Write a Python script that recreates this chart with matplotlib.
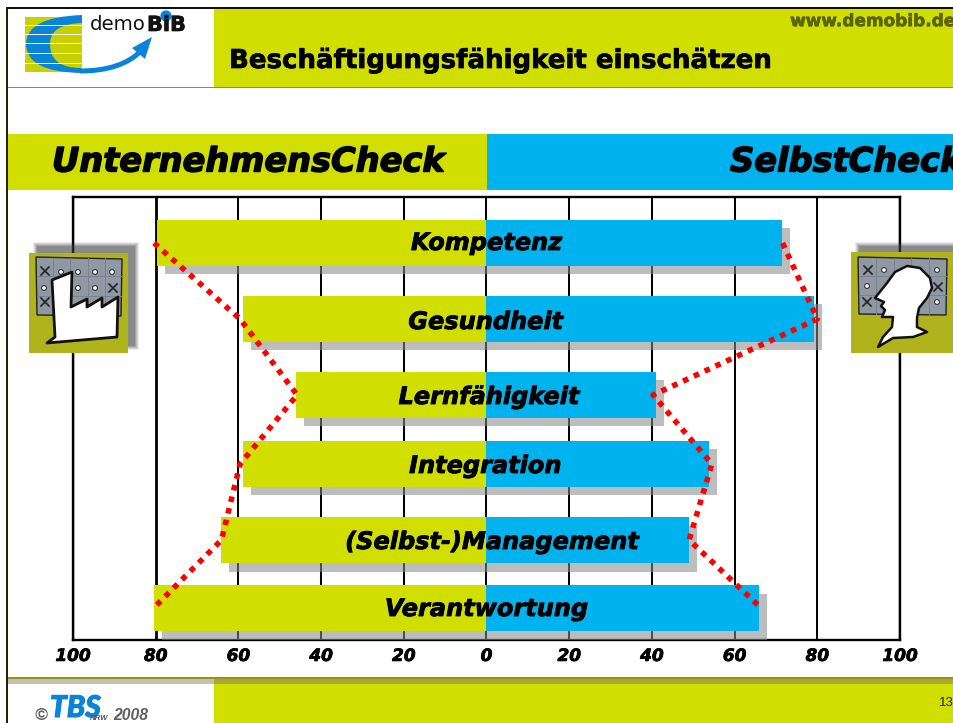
import matplotlib
matplotlib.use("Agg")
import matplotlib.pyplot as plt
import matplotlib.patheffects as pe
from matplotlib.font_manager import FontProperties as FP
from matplotlib.patches import Rectangle, Polygon, PathPatch, Circle
from matplotlib.path import Path
from matplotlib.transforms import offset_copy

# ---- data ----
categories = ["Kompetenz", "Gesundheit", "Lernfähigkeit", "Integration",
              "(Selbst-)Management", "Verantwortung"]
unternehmen = [79.6, 59.0, 46.0, 59.0, 64.1, 80.5]
selbst = [71.4, 79.3, 41.0, 53.7, 49.0, 66.0]
unternehmen_line = [80.4, 59.6, 45.8, 59.6, 64.1, 80.5]
selbst_line = [71.6, 80.0, 40.3, 54.5, 49.0, 66.4]
tick_values = [-100, -80, -60, -40, -20, 0, 20, 40, 60, 80, 100]
tick_labels = ["100", "80", "60", "40", "20", "0", "20", "40", "60", "80", "100"]

# ---- layout / style ----
W, H = 954, 723
row_centres = [46, 122, 198, 267, 343, 411]
label_baselines = [53, 132, 207, 276, 352, 419]
label_shift = [0.0, -0.2, 0.6, -0.3, 1.3, 0.0]
GREEN, BLUE, OLIVE = "#D0DE00", "#00B2EE", "#9A9400"
LOGO = "#0A84D8"


def bold(size):
    return FP(family="DejaVu Sans", weight="bold", size=size)


def bold_italic(size):
    return FP(family="DejaVu Sans", weight="bold", style="oblique", size=size)


def lib_bi(size):
    return FP(family="Liberation Sans", weight="bold", style="italic", size=size)


def heavy_text(w, c="black"):
    return [pe.withStroke(linewidth=w, foreground=c)]


fig = plt.figure(figsize=(W / 100, H / 100), dpi=100, facecolor="white")


def pixel_axes(z):
    a = fig.add_axes([0, 0, 1, 1], zorder=z)
    a.set_xlim(0, W)
    a.set_ylim(H, 0)
    a.axis("off")
    return a


back = pixel_axes(0)
front = pixel_axes(3)


def rect(a, x0, y0, x1, y1, c, **kw):
    a.add_patch(Rectangle((x0, y0), x1 - x0, y1 - y0, facecolor=c, edgecolor="none", **kw))


# ---- page furniture ----
rect(back, 214, 9, W, 87, GREEN)
rect(back, 8, 86.5, W, 88, OLIVE)
rect(back, 8, 134, 487, 190, GREEN)
rect(back, 487, 134, W, 190, BLUE)
rect(back, 6, 7, W, 9.3, "#111111")
rect(back, 6, 7, 8.3, H, "#222200")
rect(back, 214, 684, W, H, GREEN)
rect(back, 8, 676.5, W, 679, OLIVE)
rect(back, 8, 679, 214, 684, "#C0C0C0")
rect(back, 214, 679, W, 684, "#A8A838")

back.text(229, 61, "Beschäftigungsfähigkeit einschätzen", fontproperties=bold(18.75), color="black",
          va="center", ha="left", path_effects=heavy_text(0.5))
back.text(790.7, 21.7, "www.demobib.de", fontproperties=bold(12.2), color="#90980A", va="center")
back.text(790, 21, "www.demobib.de", fontproperties=bold(12.2), color="#5C6400", va="center",
          path_effects=heavy_text(0.3, "#5C6400"))
back.text(52, 162, "UnternehmensCheck", fontproperties=bold_italic(24.2), color="black", va="center",
          path_effects=heavy_text(1.0))
back.text(730, 162, "SelbstCheck", fontproperties=bold_italic(24.2), color="black", va="center",
          path_effects=heavy_text(1.0))
back.text(939, 703, "13", fontsize=9.6, family="Liberation Sans", color="#222222", va="center")

# ---- logo ----
rect(back, 25, 17, 82, 72, "#C8D000")
crescent = Path(
    [(82, 15), (26, 17), (26, 44), (26, 72), (81, 73), (81, 68), (50, 68), (50, 44), (50, 24), (82, 23), (82, 15)],
    [Path.MOVETO, Path.CURVE3, Path.CURVE3, Path.CURVE3, Path.CURVE3, Path.LINETO,
     Path.CURVE3, Path.CURVE3, Path.CURVE3, Path.CURVE3, Path.CLOSEPOLY])
back.add_patch(PathPatch(crescent, facecolor=LOGO, edgecolor="none"))
for yy in (25, 34, 43.5, 53, 63):
    rect(back, 25, yy - 0.5, 82, yy + 0.5, "white")
arrow = Path([(80, 71), (122, 71), (142, 50)], [Path.MOVETO, Path.CURVE3, Path.CURVE3])
back.add_patch(PathPatch(arrow, facecolor="none", edgecolor=LOGO, lw=3.6))
back.add_patch(Polygon([(132, 48), (152, 37), (145, 59)], closed=True, facecolor=LOGO, edgecolor="none"))
back.text(90, 25, "demo", fontsize=14.2, family="DejaVu Sans", color="#111111", va="center")
back.text(147, 25, "BiB", fontproperties=bold(15), color="#111111", va="center",
          path_effects=heavy_text(0.5, "#111111"))
back.add_patch(Circle((166, 16), 5.6, facecolor=LOGO, edgecolor="none"))

# ---- TBS logo ----
back.text(50, 708, "TBS", fontproperties=FP(family="Lato", weight="black", style="italic", size=21.5),
          color=LOGO, va="center", path_effects=heavy_text(0.8, LOGO))
back.text(90, 718, "NRW", fontproperties=lib_bi(5.6), color="#555555", va="center")
back.text(34, 715, "©", fontproperties=lib_bi(12.5), color="#606060", va="center")
back.text(113, 716, "2008", fontproperties=lib_bi(11.3), color="#606060", va="center")

# ---- chart ----
ax = fig.add_axes([73 / W, 1 - 640 / H, (900 - 73) / W, (640 - 197) / H], zorder=1)
ax.patch.set_alpha(0)
shadow_tf = offset_copy(ax.transData, fig=fig, x=8, y=-8.5, units="dots")
heavy = {-80: 2.0, -100: 1.7, 100: 1.7}
ax.vlines(tick_values, 0, 443, colors="black",
          linewidths=[heavy.get(v, 1.45) for v in tick_values], zorder=1)
for s in ax.spines.values():
    s.set_linewidth(1.7)
    s.set_zorder(1)

for name, c, l, r, bl, sh in zip(categories, row_centres, unternehmen, selbst, label_baselines, label_shift):
    ax.barh(c, l + r, left=-l, height=46, color="#8A8A8A", alpha=0.56,
            transform=shadow_tf, zorder=2, clip_on=False)
    ax.barh(c, -l, height=46, color=GREEN, zorder=3)
    ax.barh(c, r, height=46, color=BLUE, zorder=3)
    ax.text(sh, bl, name, fontproperties=bold_italic(17.3), ha="center", va="baseline",
            color="black", zorder=5, path_effects=heavy_text(0.6))

ax.plot([-v for v in unternehmen_line], row_centres, color="#FF0000", lw=4.0,
        ls=(0, (1, 1.14)), dash_capstyle="butt", zorder=4, clip_on=False)
ax.plot(selbst_line, row_centres, color="#FF0000", lw=4.0,
        ls=(0, (1, 1.14)), dash_capstyle="butt", zorder=4, clip_on=False)

ax.set_xlim(-100, 100)
ax.set_ylim(443, 0)
ax.set_yticks([])
ax.set_xticks(tick_values)
ax.set_xticklabels(tick_labels)
for t in ax.get_xticklabels():
    t.set_fontproperties(bold_italic(12.2))
    t.set_path_effects(heavy_text(0.5))
ax.tick_params(axis="x", length=0, pad=5)


# ---- icons ----
def soft_shadow(a, x0, y0, x1, y1):
    for g, al in ((4, 0.10), (3, 0.13), (2, 0.16), (1, 0.2), (0, 0.25)):
        rect(a, x0 - g, y0 - g, x1 + g, y1 + g, "#404040", alpha=al)


def panel(a, x0, y0, x1, y1, dots, crosses):
    a.add_patch(Polygon([(x0, y0), (x1, y0 + 2), (x1 - 1, y1), (x0 + 1, y1 - 1)], closed=True,
                        facecolor="#8F98A3", edgecolor="#222222", lw=1))
    for f in (0.2, 0.4, 0.6, 0.8):
        xx = x0 + f * (x1 - x0)
        a.plot([xx, xx], [y0 + 1, y1 - 1], color="#7A828C", lw=0.7)
    for f in (0.33, 0.66):
        yy = y0 + f * (y1 - y0)
        a.plot([x0 + 1, x1 - 1], [yy, yy], color="#7A828C", lw=0.7)
    for (dx, dy) in dots:
        a.add_patch(Circle((dx, dy), 2.4, facecolor="white", edgecolor="#333333", lw=0.8))
    for (dx, dy) in crosses:
        a.plot([dx - 4, dx + 4], [dy - 4, dy + 4], color="#222222", lw=1.2)
        a.plot([dx - 4, dx + 4], [dy + 4, dy - 4], color="#222222", lw=1.2)


# factory icon
soft_shadow(front, 37, 246, 135, 346)
rect(front, 29, 253, 128, 353, "#B0B41C")
panel(front, 36, 257, 122, 316,
      [(61, 272), (78, 272), (95, 272), (112, 272), (44, 288), (78, 288), (95, 288)],
      [(45, 271), (113, 288), (45, 302)])
front.add_patch(Polygon([(52, 280), (72, 272), (71, 307), (87, 299), (87, 307), (102, 298), (102, 307),
                         (118, 297), (117, 337), (47, 343), (55, 337)], closed=True,
                        facecolor="white", edgecolor="#111111", lw=2, joinstyle="round", zorder=5))

# head icon
soft_shadow(front, 859, 246, 960, 346)
rect(front, 851, 252, W + 2, 353, "#B0B41C")
panel(front, 858, 257, 947, 315,
      [(884, 270), (937, 270), (867, 286), (937, 302)],
      [(868, 270), (938, 287), (867, 302)])
front.add_patch(Polygon([(875, 298), (887, 283), (895, 272), (907, 266), (920, 268), (930, 278), (932, 288),
                         (927, 298), (919, 308), (917, 318), (917, 327), (927, 332), (913, 337), (893, 338),
                         (878, 347), (883, 337), (892, 327), (893, 317), (882, 317), (885, 310), (881, 306),
                         (884, 302)], closed=True, facecolor="white", edgecolor="#111111", lw=1.8,
                        joinstyle="round", zorder=5))

fig.savefig("out.png", dpi=100)
